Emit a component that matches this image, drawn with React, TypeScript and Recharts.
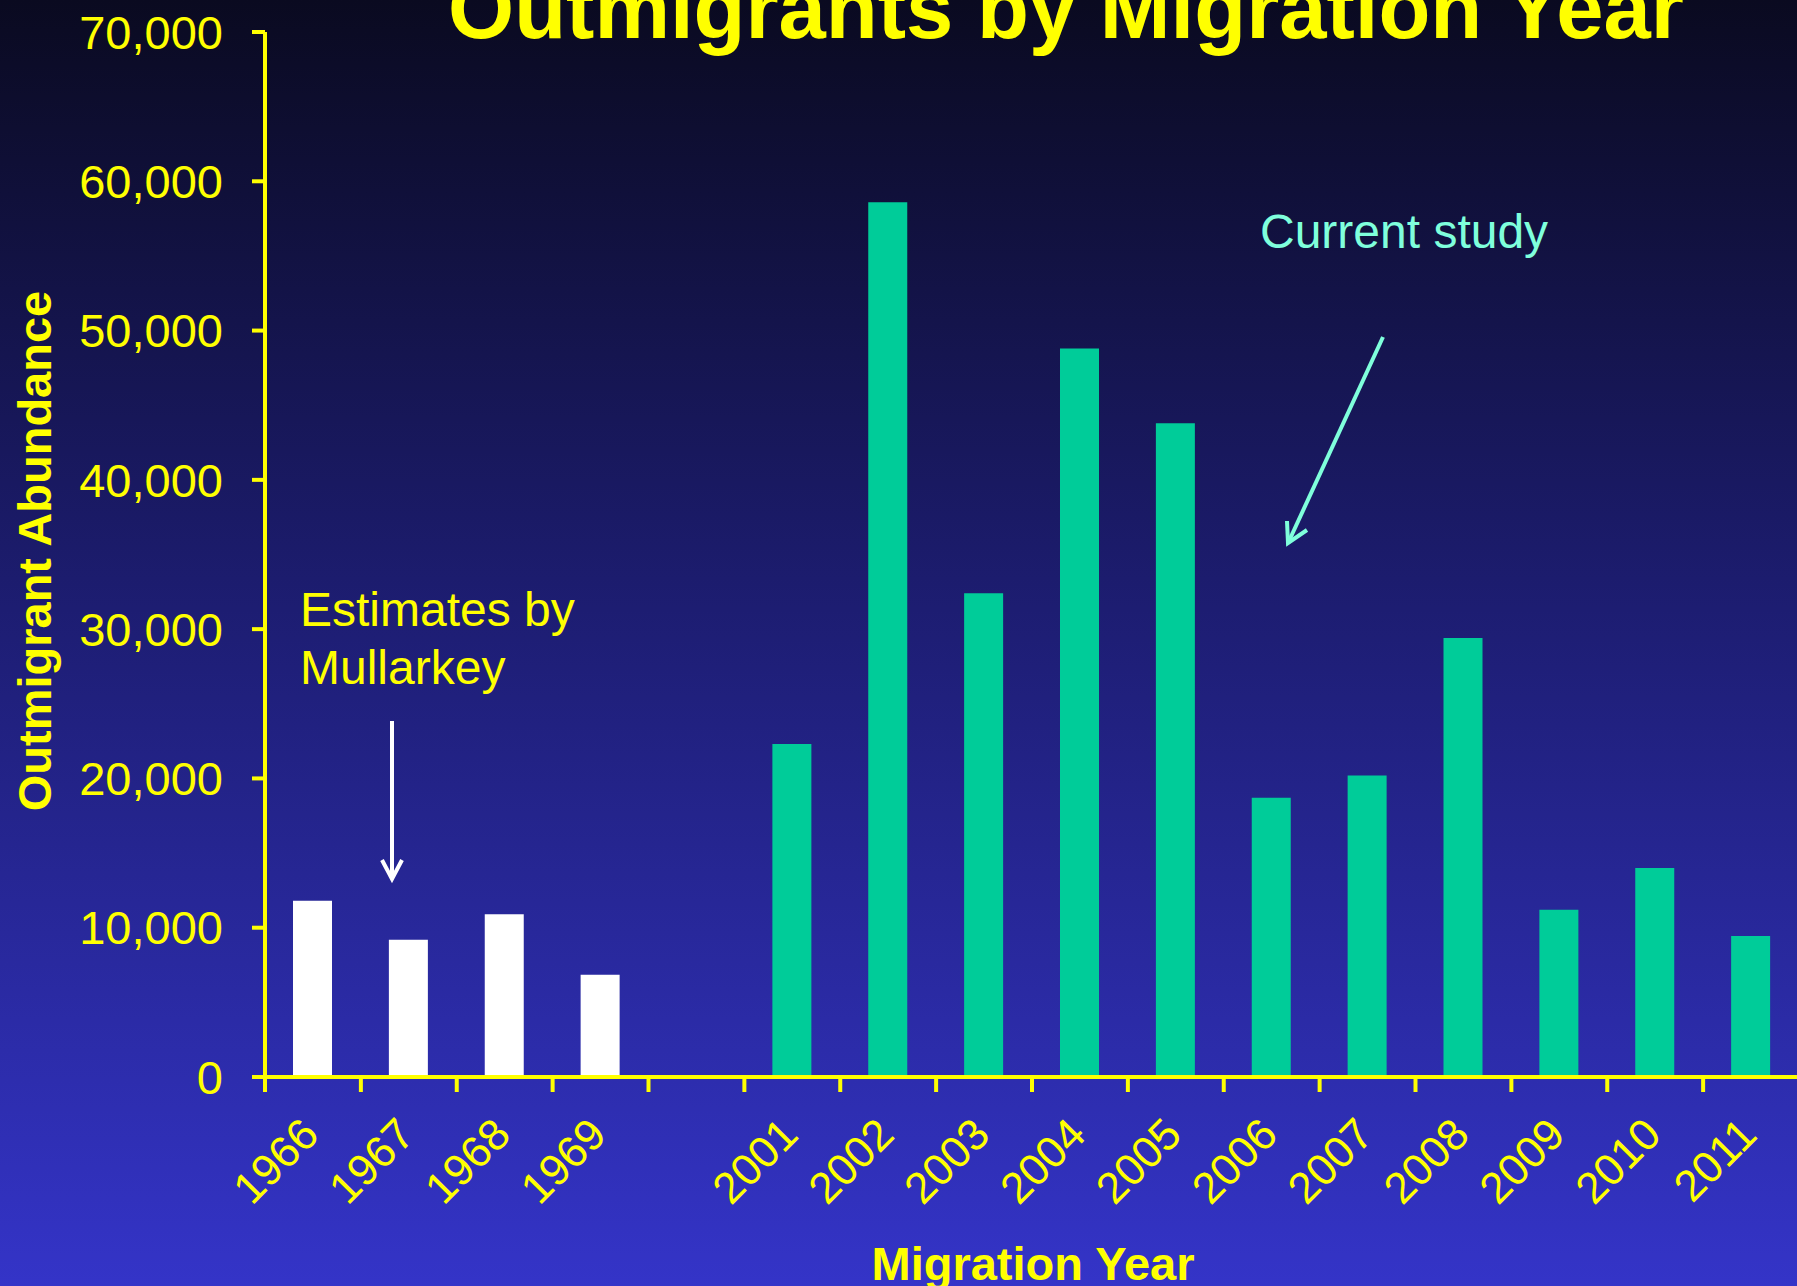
import { Bar, BarChart, XAxis, YAxis } from 'recharts';

const years = ['1966', '1967', '1968', '1969', '', '2001', '2002', '2003', '2004', '2005', '2006', '2007', '2008', '2009', '2010', '2011'];
const mullarkey = [11800, 9200, 10900, 6850, null, null, null, null, null, null, null, null, null, null, null, null];
const currentStudy = [null, null, null, null, null, 22300, 58600, 32400, 48800, 43800, 18700, 20200, 29400, 11200, 14000, 9450];
const yTicks = [0, 10000, 20000, 30000, 40000, 50000, 60000, 70000];

const data = years.map((year, i) => ({
  year,
  mullarkey: mullarkey[i],
  current: currentStudy[i],
}));

const YELLOW = '#FFFF00';
const AQUA = '#7FFFDC';
const FONT = '"Liberation Sans", Arial, Helvetica, sans-serif';
const BAND = 1534 / years.length;

const YearTick = (props: any) => {
  const { x, y, payload } = props;
  const left = x - BAND / 2;
  const tx = x + 8;
  const ty = y + 60;
  return (
    <g>
      <line x1={left} y1={y} x2={left} y2={y + 15} stroke={YELLOW} strokeWidth={4} />
      {payload.value ? (
        <text
          x={tx}
          y={ty}
          transform={`rotate(-45 ${tx} ${ty})`}
          textAnchor="end"
          fill={YELLOW}
          fontSize={44}
          fontFamily={FONT}
        >
          {payload.value}
        </text>
      ) : null}
    </g>
  );
};

export default function App() {
  return (
    <div
      style={{
        position: 'absolute',
        left: 0,
        top: 0,
        width: 1797,
        height: 1286,
        overflow: 'hidden',
        background: 'linear-gradient(to bottom, #0a0a20 0%, #1c1c6e 45%, #3434c8 100%)',
        fontFamily: FONT,
      }}
    >
      <BarChart width={1800} height={1286} data={data} margin={{ top: 32, right: 1, bottom: 0, left: 0 }}>
        <XAxis
          dataKey="year"
          height={209}
          interval={0}
          tickSize={0}
          tickMargin={0}
          tickLine={false}
          axisLine={{ stroke: YELLOW, strokeWidth: 4 }}
          tick={<YearTick />}
        />
        <YAxis
          width={265}
          domain={[0, 70000]}
          ticks={yTicks}
          interval={0}
          tickSize={13}
          tickMargin={29}
          axisLine={{ stroke: YELLOW, strokeWidth: 4 }}
          tickLine={{ stroke: YELLOW, strokeWidth: 4 }}
          tick={{ fill: YELLOW, fontSize: 47, fontFamily: FONT }}
          tickFormatter={(v: number) => v.toLocaleString('en-US')}
        />
        <Bar dataKey="mullarkey" stackId="s" fill="#FFFFFF" barSize={39} isAnimationActive={false} />
        <Bar dataKey="current" stackId="s" fill="#00CC99" barSize={39} isAnimationActive={false} />
      </BarChart>

      <svg
        width={1797}
        height={1286}
        style={{ position: 'absolute', left: 0, top: 0, pointerEvents: 'none' }}
      >
        <text x={1066} y={38} textAnchor="middle" fill={YELLOW} fontSize={85} fontWeight="bold" fontFamily={FONT}>
          Outmigrants by Migration Year
        </text>
        <text
          x={51}
          y={551}
          transform="rotate(-90 51 551)"
          textAnchor="middle"
          fill={YELLOW}
          fontSize={47}
          fontWeight="bold"
          fontFamily={FONT}
        >
          Outmigrant Abundance
        </text>
        <text x={1033} y={1280} textAnchor="middle" fill={YELLOW} fontSize={47} fontWeight="bold" fontFamily={FONT}>
          Migration Year
        </text>

        <text x={300} y={626} fill={YELLOW} fontSize={48} fontFamily={FONT}>
          Estimates by
        </text>
        <text x={300} y={684} fill={YELLOW} fontSize={48} fontFamily={FONT}>
          Mullarkey
        </text>
        <line x1={392} y1={721} x2={392} y2={878} stroke="#FFFFFF" strokeWidth={4} />
        <polyline points="382,860 392,879 402,860" fill="none" stroke="#FFFFFF" strokeWidth={4} />

        <text x={1260} y={248} fill={AQUA} fontSize={48} fontFamily={FONT}>
          Current study
        </text>
        <line x1={1383} y1={337} x2={1289} y2={541} stroke={AQUA} strokeWidth={4} />
        <polyline points="1287,521 1288,543 1307,530" fill="none" stroke={AQUA} strokeWidth={4} />
      </svg>
    </div>
  );
}
